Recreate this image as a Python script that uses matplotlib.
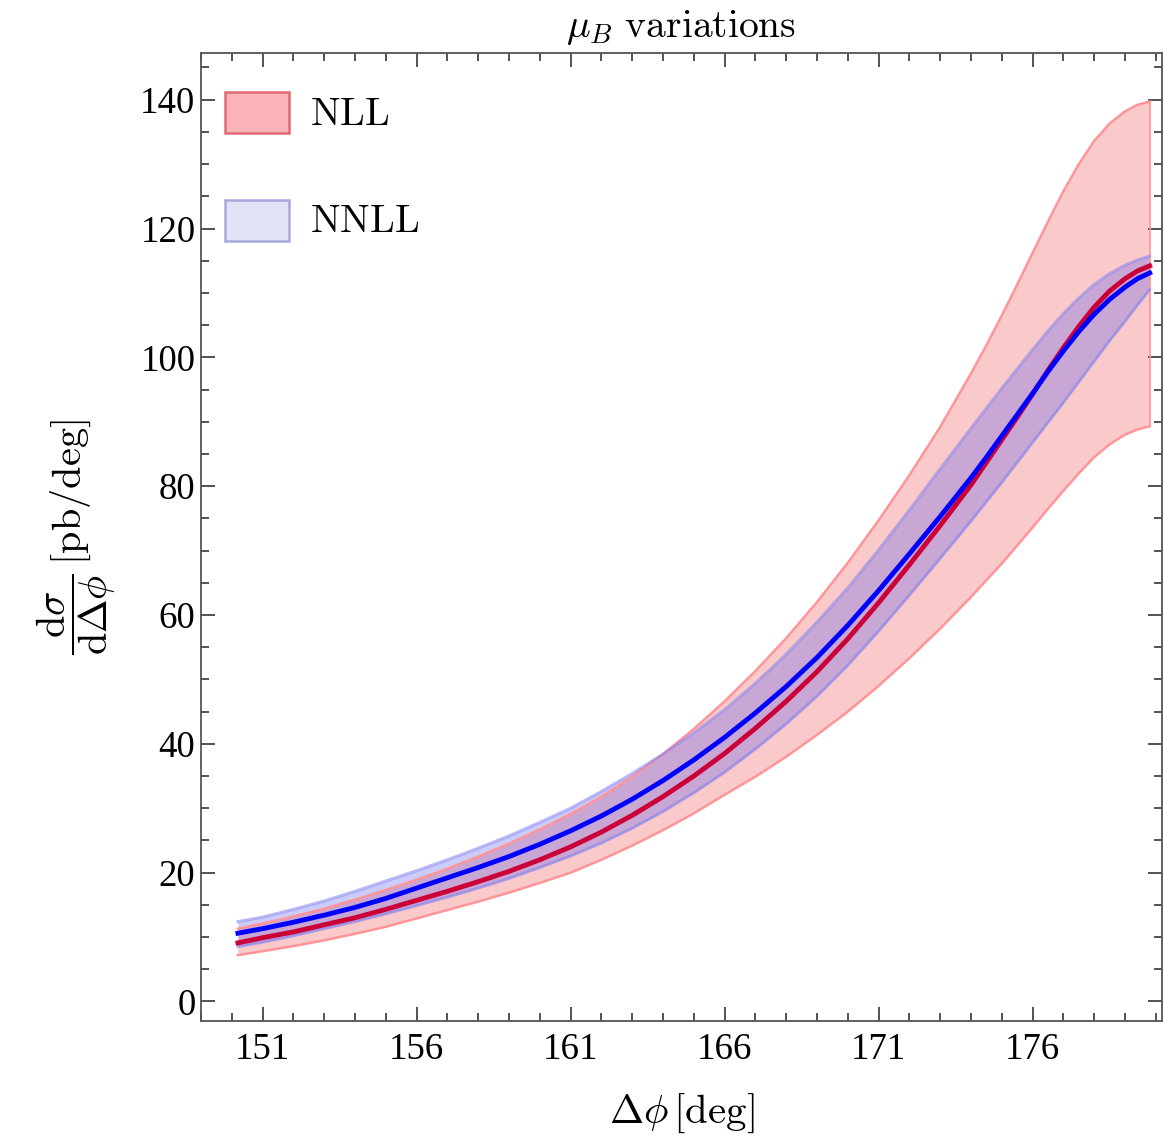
import matplotlib
matplotlib.use("Agg")
import matplotlib.pyplot as plt
from matplotlib.patches import Rectangle
from matplotlib.ticker import MultipleLocator, FixedLocator

plt.rcParams['mathtext.fontset'] = 'cm'
plt.rcParams['font.family'] = ['Liberation Serif', 'DejaVu Serif']

# ---- data ----
dphi = [150.2, 151, 152, 153, 154, 155, 156, 157, 158, 159, 160, 161, 162, 163, 164,
        165, 166, 167, 168, 169, 170, 171, 172, 173, 174, 174.5, 175, 175.5, 176, 176.5,
        177, 177.5, 178, 178.5, 179, 179.4, 179.8]

nll_central = [9.1, 9.9, 10.8, 11.9, 13.0, 14.3, 15.7, 17.1, 18.6, 20.2, 22.0, 24.0, 26.3,
               28.9, 31.8, 35.0, 38.5, 42.4, 46.6, 51.2, 56.3, 61.9, 67.8, 73.9, 80.2,
               83.7, 87.2, 90.7, 94.3, 98.0, 101.5, 104.8, 107.8, 110.3, 112.2, 113.4, 114.2]
nll_upper = [11.3, 12.1, 13.2, 14.4, 15.8, 17.3, 18.9, 20.6, 22.5, 24.5, 26.7, 29.1, 31.8,
             34.9, 38.4, 42.3, 46.6, 51.3, 56.4, 62.0, 68.1, 74.7, 81.7, 89.2, 97.5,
             101.9, 106.5, 111.3, 116.2, 121.1, 125.8, 130.0, 133.6, 136.3, 138.2, 139.2, 139.7]
nll_lower = [7.2, 7.8, 8.6, 9.5, 10.5, 11.6, 12.9, 14.2, 15.5, 16.9, 18.4, 20.0, 22.0,
             24.2, 26.6, 29.2, 32.1, 34.9, 38.0, 41.4, 45.0, 49.0, 53.3, 57.9, 62.8,
             65.4, 68.0, 70.8, 73.6, 76.5, 79.3, 82.0, 84.5, 86.5, 88.0, 88.8, 89.3]

nnll_central = [10.6, 11.3, 12.3, 13.4, 14.6, 16.0, 17.6, 19.2, 20.8, 22.5, 24.4, 26.5,
                28.8, 31.4, 34.3, 37.5, 41.0, 44.8, 48.9, 53.4, 58.4, 63.8, 69.5, 75.3,
                81.3, 84.5, 87.8, 91.1, 94.4, 97.8, 101.0, 104.0, 106.7, 109.0, 110.9,
                112.2, 113.1]
nnll_upper = [12.4, 13.1, 14.3, 15.6, 17.1, 18.7, 20.3, 22.0, 23.8, 25.7, 27.8, 30.0, 32.6,
              35.4, 38.4, 41.7, 45.3, 49.4, 53.9, 58.9, 64.2, 70.1, 76.3, 82.7, 89.0,
              92.1, 95.2, 98.2, 101.2, 104.1, 106.8, 109.2, 111.3, 113.0, 114.3, 115.1, 115.7]
nnll_lower = [8.5, 9.2, 10.2, 11.3, 12.4, 13.6, 14.9, 16.2, 17.6, 19.1, 20.8, 22.6, 24.6,
              26.9, 29.5, 32.4, 35.6, 39.2, 43.1, 47.4, 52.2, 57.5, 63.1, 68.8, 74.6,
              77.6, 80.6, 83.7, 86.8, 89.9, 93.0, 96.2, 99.4, 102.6, 105.6, 108.1, 110.5]

labels = ['NLL', 'NNLL']
x_major_ticks = [151, 156, 161, 166, 171, 176]
y_major_ticks = [0, 20, 40, 60, 80, 100, 120, 140]

# ---- figure ----
W, H = 1163, 1142
fig = plt.figure(figsize=(W / 100, H / 100), dpi=100)
ax_l, ax_r, ax_t, ax_b = 201, 1162, 53.3, 1021
ax = fig.add_axes([ax_l / W, 1 - ax_b / H, (ax_r - ax_l) / W, (ax_b - ax_t) / H])

nll_fill = (0.98, 0.79, 0.79)
nll_edge = (1.0, 0.58, 0.60)
nnll_fill = (0.35, 0.35, 0.95)
nnll_edge = (0.50, 0.50, 0.95)

ax.fill_between(dphi, nll_lower, nll_upper, color=nll_fill, lw=0, zorder=1)
ax.fill_between(dphi, nnll_lower, nnll_upper, color=nnll_fill, alpha=0.30, lw=0, zorder=2)
ax.plot(dphi, nll_upper, color=nll_edge, lw=1.8, zorder=3)
ax.plot(dphi, nll_lower, color=nll_edge, lw=1.8, zorder=3)
ax.plot([dphi[-1], dphi[-1]], [nll_lower[-1], nll_upper[-1]], color=nll_edge, lw=1.2, zorder=3)
ax.plot(dphi, nnll_upper, color=nnll_edge, lw=2.2, alpha=0.55, zorder=4)
ax.plot(dphi, nnll_lower, color=nnll_edge, lw=2.2, alpha=0.55, zorder=4)
ax.plot(dphi, nll_central, color=(0.80, 0.0, 0.22), lw=3.5, zorder=5)
ax.plot(dphi, nnll_central, color=(0.0, 0.0, 1.0), lw=3.5, zorder=6)

ax.set_xlim(149.0, 180.2)
ax.set_ylim(-3.03, 147.2)
ax.xaxis.set_major_locator(FixedLocator(x_major_ticks))
ax.xaxis.set_minor_locator(MultipleLocator(1))
ax.yaxis.set_major_locator(FixedLocator(y_major_ticks))
ax.yaxis.set_minor_locator(MultipleLocator(5))
ax.tick_params(which='both', direction='in', top=True, right=True, colors='#444444',
               labelcolor='black', labelsize=26.5, width=1.3)
ax.tick_params(which='major', length=10)
ax.tick_params(which='minor', length=6)
ax.tick_params(axis='x', pad=8)
ax.tick_params(axis='y', pad=4)
for s in ax.spines.values():
    s.set_color('#555555')
    s.set_linewidth(1.3)

ax.set_title(r'$\mu_B\ \mathrm{variations}$', fontsize=28.5, pad=12)
ax.set_xlabel(r'$\Delta\phi\,[\mathrm{deg}]$', fontsize=29.5, labelpad=18)
ax.set_ylabel(r'$\dfrac{\mathrm{d}\sigma}{\mathrm{d}\Delta\phi}\,[\mathrm{pb/deg}]$',
              fontsize=29, labelpad=16)

# ---- legend (drawn manually in axes coordinates) ----
def axy(py):
    return (ax_b - py) / (ax_b - ax_t)

def axx(px):
    return (px - ax_l) / (ax_r - ax_l)

legend_fill = [(0.98, 0.70, 0.72), (0.89, 0.89, 0.97)]
legend_edge = [(0.88, 0.42, 0.47), (0.66, 0.66, 0.87)]
box_tops = [92, 200]
baselines = [125, 232]
for lab, fc, ec, bt, bl in zip(labels, legend_fill, legend_edge, box_tops, baselines):
    ax.add_patch(Rectangle((axx(225), axy(bt + 41)), axx(289) - axx(225), axy(bt) - axy(bt + 41),
                           transform=ax.transAxes, facecolor=fc, edgecolor=ec, lw=1.8,
                           zorder=10, clip_on=False))
    ax.text(axx(310), axy(bl), r'$\mathrm{%s}$' % lab, transform=ax.transAxes,
            fontsize=28.5, va='baseline', ha='left', zorder=10)

fig.savefig('out.png', dpi=100)
